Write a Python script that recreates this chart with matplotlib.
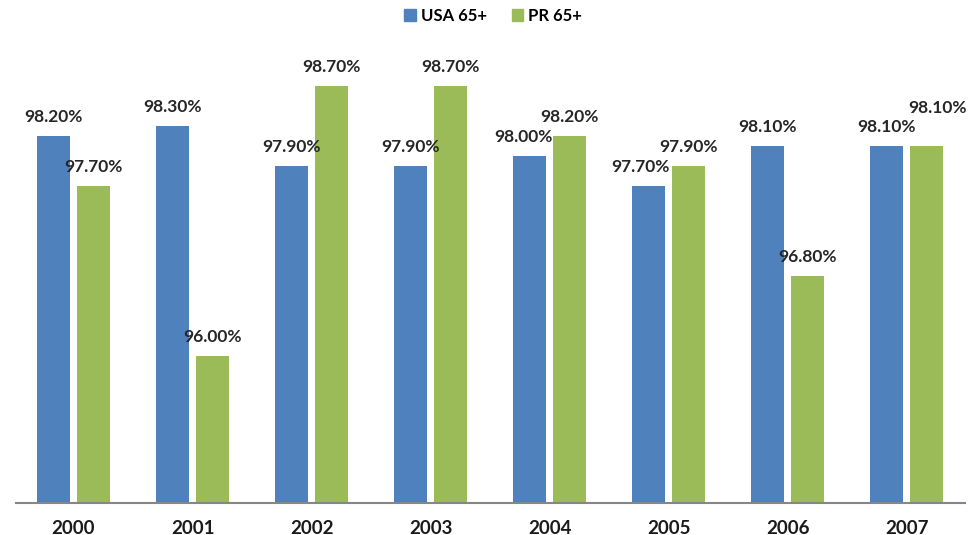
import matplotlib

matplotlib.use("Agg")
import matplotlib.pyplot as plt
from matplotlib.patches import Patch

years = ["2000", "2001", "2002", "2003", "2004", "2005", "2006", "2007"]
usa_65 = [98.2, 98.3, 97.9, 97.9, 98.0, 97.7, 98.1, 98.1]
pr_65 = [97.7, 96.0, 98.7, 98.7, 98.2, 97.9, 96.8, 98.1]
series_names = ["USA 65+", "PR 65+"]

BLUE = "#4F81BD"
GREEN = "#9BBB59"
FONT = "Lato"

# label nudges (pixels) where the original chart moved labels to avoid overlap
nudges = {(0, 4): (-6, 0), (0, 5): (-8, 0), (1, 7): (11, 19)}

fig = plt.figure(figsize=(9.7, 5.35), dpi=100)
ax = fig.add_axes([16 / 970, 32 / 535, 949 / 970, 471 / 535])

width = 0.278
offset = 0.168
xs = range(len(years))

for s, (values, shift, color) in enumerate(((usa_65, -offset, BLUE), (pr_65, offset, GREEN))):
    positions = [x + shift for x in xs]
    ax.bar(positions, values, width=width, color=color, bottom=0)
    for i, (pos, val) in enumerate(zip(positions, values)):
        dx, dy = nudges.get((s, i), (0, 0))
        ax.annotate(
            f"{val:.2f}%",
            (pos, val),
            xytext=(dx, 19 + dy),
            textcoords="offset pixels",
            ha="center",
            va="center",
            fontsize=12.5,
            fontweight="bold",
            family=FONT,
            color="#262626",
        )

ax.set_ylim(94.53, 94.53 + 4.71)
ax.set_xlim(-0.483, 7.49)
ax.set_yticks([])
ax.set_xticks(list(xs))
ax.set_xticklabels(years, fontsize=13.5, fontweight="bold", family=FONT, color="#1a1a1a")
ax.tick_params(axis="x", length=0, pad=12)
for side in ("top", "right", "left"):
    ax.spines[side].set_visible(False)
ax.spines["bottom"].set_color("#868686")
ax.spines["bottom"].set_linewidth(1.5)

handles = [Patch(color=BLUE), Patch(color=GREEN)]
fig.legend(
    handles,
    series_names,
    loc="center",
    bbox_to_anchor=(493 / 970, 1 - 16 / 535),
    ncol=2,
    frameon=False,
    handlelength=0.7,
    handleheight=0.7,
    handletextpad=0.3,
    columnspacing=1.5,
    prop={"family": FONT, "weight": "bold", "size": 12},
)

fig.savefig("out.png", dpi=100)
